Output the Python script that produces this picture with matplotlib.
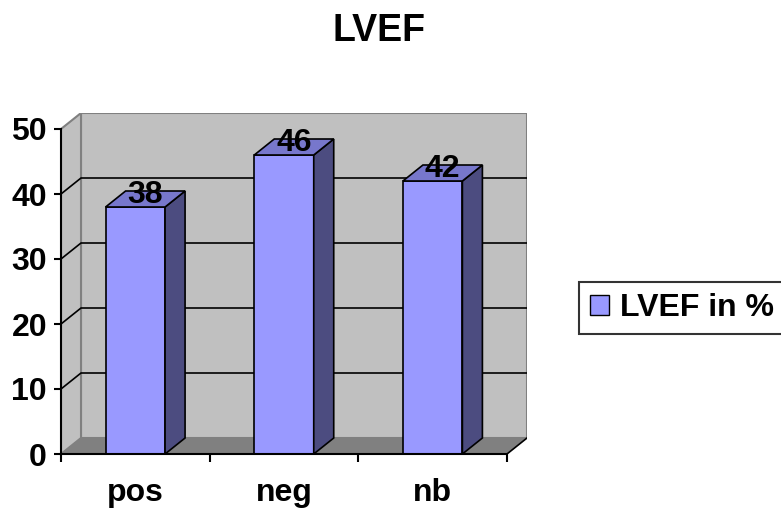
import numpy as np
import matplotlib.pyplot as plt
from matplotlib.patches import Polygon, Patch

plt.rcParams['font.family'] = ['Liberation Sans', 'DejaVu Sans']
plt.rcParams['font.weight'] = 'bold'

categories = ['pos', 'neg', 'nb']
lvef = [38, 46, 42]
yticks = [0, 10, 20, 30, 40, 50]

front_c = '#9999ff'
top_c = '#7777cc'
side_c = '#4c4c80'
wall_c = '#c0c0c0'
floor_c = '#808080'
edge_gray = '#808080'
fs = 23

fig = plt.figure(figsize=(7.81, 5.09), dpi=100)
ax = fig.add_axes([61 / 781, 55 / 509, 466 / 781, 341 / 509])

n = len(categories)
ymax = yticks[-1]
# depth offset of the fake 3d box, in data units
dx = n * 20 / 446
dy = ymax * 16 / 325
ax.set_xlim(0, n + dx)
ax.set_ylim(0, ymax + dy)

# walls and floor
ax.add_patch(Polygon([(dx, dy), (n + dx, dy), (n + dx, ymax + dy), (dx, ymax + dy)],
                     fc=wall_c, ec=edge_gray, lw=1.5, zorder=0))
ax.add_patch(Polygon([(0, 0), (dx, dy), (dx, ymax + dy), (0, ymax)],
                     fc=wall_c, ec=edge_gray, lw=1.5, zorder=0))
ax.add_patch(Polygon([(0, 0), (n, 0), (n + dx, dy), (dx, dy)],
                     fc=floor_c, ec='none', zorder=1))
ax.plot([n, n + dx], [0, dy], color='black', lw=1.2, zorder=1)

for v in yticks[1:-1]:
    ax.plot([0, dx, n + dx], [v, v + dy, v + dy], color='black', lw=1.2, zorder=1)

# bars: front face via bar(), side and top as polygons
x = np.arange(n) + 0.5
w = 0.4
bd = dx
ax.bar(x, lvef, w, color=front_c, edgecolor='black', lw=1.2, zorder=3)
for xi, v in zip(x, lvef):
    r = xi + w / 2
    l = xi - w / 2
    ax.add_patch(Polygon([(r, 0), (r + bd, dy), (r + bd, v + dy), (r, v)],
                         fc=side_c, ec='black', lw=1.2, zorder=3))
    ax.add_patch(Polygon([(l, v), (r, v), (r + bd, v + dy), (l + bd, v + dy)],
                         fc=top_c, ec='black', lw=1.2, zorder=3))
    ax.text(xi + bd / 2, v + dy * 0.75, str(v), ha='center', va='center',
            fontsize=fs, fontweight='bold', zorder=4)

# axes
for s in ['top', 'right']:
    ax.spines[s].set_visible(False)
ax.spines['left'].set_bounds(0, ymax)
ax.spines['bottom'].set_bounds(0, n)
ax.spines['left'].set_linewidth(1.5)
ax.spines['bottom'].set_linewidth(1.5)
ax.spines['left'].set_zorder(5)
ax.spines['bottom'].set_zorder(5)

ax.set_yticks(yticks)
ax.set_yticklabels([str(t) for t in yticks])
ax.tick_params(axis='y', length=5, width=1.5, pad=5, labelsize=fs)

ax.set_xticks(x)
ax.set_xticklabels(categories)
ax.set_xticks(np.arange(n + 1), minor=True)
ax.tick_params(axis='x', which='major', length=0, pad=17, labelsize=fs)
ax.tick_params(axis='x', which='minor', length=6, width=1.5)

fig.text(379 / 781, 1 - 31 / 509, 'LVEF', ha='center', va='center',
         fontsize=27, fontweight='bold')

leg = fig.legend(handles=[Patch(fc=front_c, ec='black')], labels=['LVEF in %'],
                 loc='center left', bbox_to_anchor=(579 / 781, 1 - 308 / 509),
                 frameon=True, fancybox=False, edgecolor='black', fontsize=fs,
                 handlelength=0.6, handleheight=0.6, handletextpad=0.35,
                 borderpad=0.33, borderaxespad=0)
leg.get_frame().set_linewidth(1.5)

fig.savefig('out.png', dpi=100)
